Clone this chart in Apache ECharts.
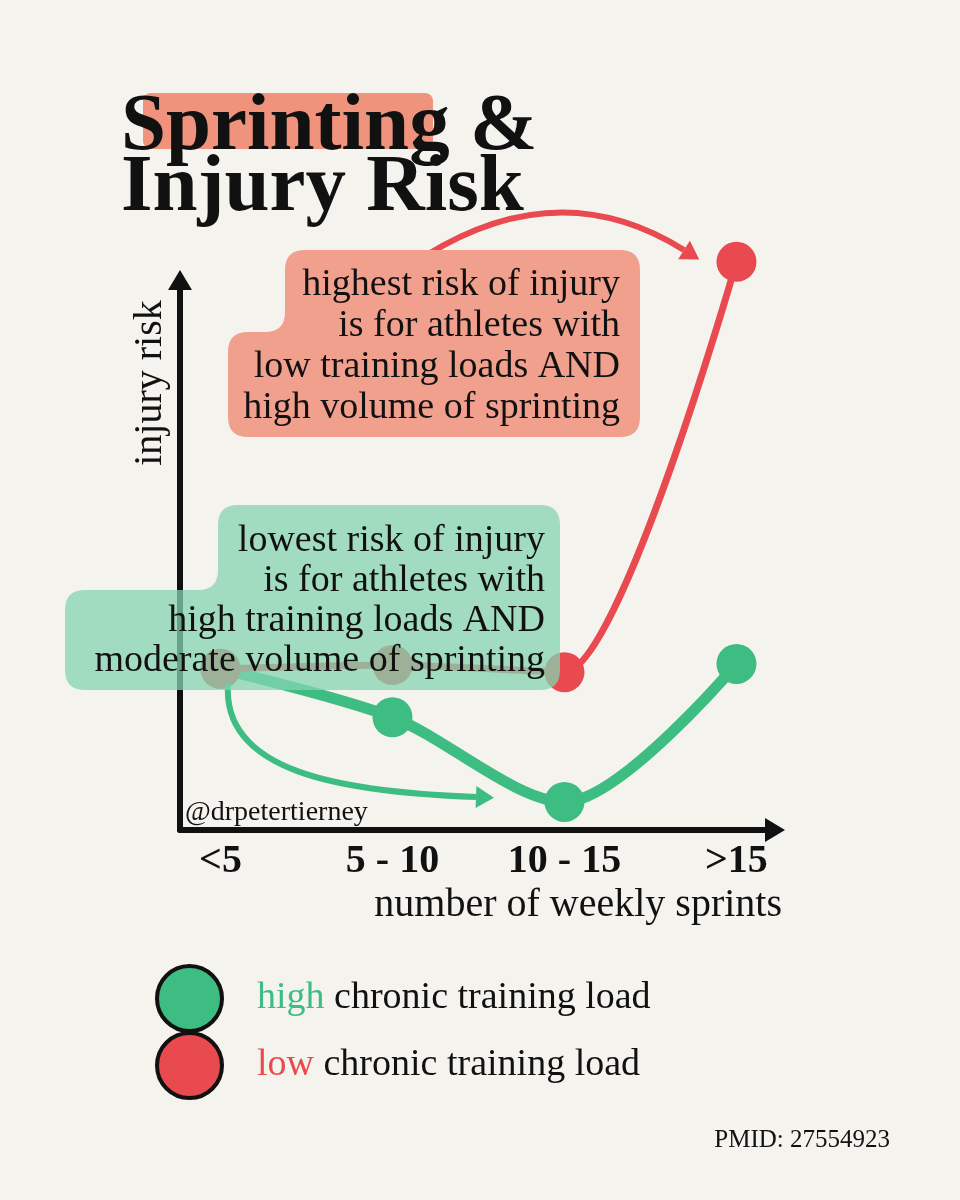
<!DOCTYPE html>
<html style="height: 100%">
<head>
    <meta charset="utf-8">
    <script type="text/javascript" src="https://cdn.jsdelivr.net/npm/echarts@6.0.0/dist/echarts.min.js"></script>
</head>
<body style="height: 100%; margin: 0; background: #f5f3ee">
<div id="container" style="height: 1200px;width: 960px;position: absolute;top: 0;left: 0;"></div>
<script type="text/javascript">
    // data (injury risk is unitless, 0 = x axis)
    var sprintBands = ['<5', '5 - 10', '10 - 15', '>15'];
    var highLoadRisk = [29.3, 20.5, 5.1, 30.2];
    var lowLoadRisk = [29.3, 30.0, 28.7, 103.3];
    var seriesNames = ['high chronic training load', 'low chronic training load'];
    var highNote = ['highest risk of injury', 'is for athletes with', 'low training loads AND', 'high volume of sprinting'];
    var lowNote = ['lowest risk of injury', 'is for athletes with', 'high training loads AND', 'moderate volume of sprinting'];

    var GREEN = '#3ebd82', RED = '#e84a4f', INK = '#111111';
    var SERIF = '"Liberation Serif", "DejaVu Serif", serif';

    function toPairs(vals) {
        return vals.map(function (v, i) { return [i, v]; });
    }

    // polygon with every corner rounded (works for inner corners too)
    function roundedPoints(verts, r) {
        var pts = [], n = verts.length;
        for (var i = 0; i < n; i++) {
            var p = verts[(i - 1 + n) % n], v = verts[i], q = verts[(i + 1) % n];
            var l1 = Math.hypot(p[0] - v[0], p[1] - v[1]), l2 = Math.hypot(q[0] - v[0], q[1] - v[1]);
            var a = [v[0] + (p[0] - v[0]) / l1 * r, v[1] + (p[1] - v[1]) / l1 * r];
            var b = [v[0] + (q[0] - v[0]) / l2 * r, v[1] + (q[1] - v[1]) / l2 * r];
            for (var k = 0; k <= 8; k++) {
                var t = k / 8, u = 1 - t;
                pts.push([u * u * a[0] + 2 * u * t * v[0] + t * t * b[0], u * u * a[1] + 2 * u * t * v[1] + t * t * b[1]]);
            }
        }
        return pts;
    }

    function arrowHead(bx, by, dx, dy, len, half, color, z) {
        var l = Math.hypot(dx, dy), ux = dx / l, uy = dy / l;
        return {
            type: 'polygon', z: z,
            shape: {points: [[bx + ux * len, by + uy * len], [bx - uy * half, by + ux * half], [bx + uy * half, by - ux * half]]},
            style: {fill: color}
        };
    }

    var dom = document.getElementById('container');
    var myChart = echarts.init(dom);

    var option = {
        backgroundColor: '#f5f3ee',
        animation: false,
        grid: {left: 180, right: 185, top: 280, bottom: 370},
        xAxis: {
            type: 'value',
            min: -0.2355,
            max: 3.224,
            splitLine: {show: false},
            axisTick: {show: false},
            axisLine: {
                show: true, onZero: false,
                lineStyle: {color: INK, width: 6},
                symbol: ['none', 'triangle'], symbolSize: [24, 20]
            },
            axisLabel: {
                customValues: [0, 1, 2, 3],
                formatter: function (v) { return sprintBands[v]; },
                fontFamily: SERIF, fontWeight: 'bold', fontSize: 40, color: INK, margin: 12
            }
        },
        yAxis: {
            type: 'value',
            min: 0,
            max: 100,
            splitLine: {show: false},
            axisTick: {show: false},
            axisLabel: {show: false},
            axisLine: {
                show: true, onZero: false,
                lineStyle: {color: INK, width: 6},
                symbol: ['none', 'triangle'], symbolSize: [24, 20]
            }
        },
        legend: {
            orient: 'vertical',
            left: 150,
            top: 959,
            itemWidth: 65,
            itemHeight: 65,
            itemGap: -2,
            icon: 'circle',
            selectedMode: false,
            itemStyle: {borderColor: INK, borderWidth: 4},
            formatter: function (name) {
                var i = name.indexOf(' ');
                var key = seriesNames.indexOf(name) === 0 ? 'g' : 'r';
                return '{' + key + '|' + name.slice(0, i) + '}' + name.slice(i);
            },
            textStyle: {
                fontFamily: SERIF, fontSize: 38, color: INK, padding: [0, 0, 0, 30],
                rich: {
                    g: {color: GREEN, fontFamily: SERIF, fontSize: 38},
                    r: {color: RED, fontFamily: SERIF, fontSize: 38}
                }
            },
            data: seriesNames
        },
        series: [
            {
                name: seriesNames[0],
                type: 'line',
                data: toPairs(highLoadRisk),
                smooth: 0.3,
                clip: false,
                symbol: 'circle',
                symbolSize: 40,
                lineStyle: {color: GREEN, width: 11},
                itemStyle: {color: GREEN},
                z: 2
            },
            {
                name: seriesNames[1],
                type: 'line',
                data: toPairs(lowLoadRisk),
                smooth: 0.22,
                clip: false,
                symbol: 'circle',
                symbolSize: 40,
                lineStyle: {color: RED, width: 7},
                itemStyle: {color: RED},
                z: 3
            }
        ],
        graphic: [
            // title
            {type: 'rect', z: 1, shape: {x: 143, y: 93, width: 290, height: 56, r: 8}, style: {fill: '#ef937d'}},
            {type: 'text', z: 2, x: 121, y: 128, style: {text: 'Sprinting &', fontFamily: SERIF, fontWeight: 'bold', fontSize: 81, fill: INK, verticalAlign: 'middle'}},
            {type: 'text', z: 2, x: 121, y: 189, style: {text: 'Injury Risk', fontFamily: SERIF, fontWeight: 'bold', fontSize: 81, fill: INK, verticalAlign: 'middle'}},

            // red annotation arrow + box
            {type: 'bezierCurve', z: 5, shape: {x1: 425, y1: 256, cpx1: 560, cpy1: 172, x2: 684, y2: 250}, style: {stroke: RED, lineWidth: 6, fill: null}},
            arrowHead(684, 250, 124, 78, 18, 11, RED, 5),
            {type: 'polygon', z: 10, shape: {points: roundedPoints([[285, 250], [640, 250], [640, 437], [228, 437], [228, 332], [285, 332]], 20)}, style: {fill: '#f1a08e'}},
            {type: 'text', z: 11, x: 620, y: 347, style: {text: highNote.join('\n'), fontFamily: SERIF, fontSize: 38, lineHeight: 41, fill: INK, align: 'right', verticalAlign: 'middle'}},

            // green annotation arrow + box
            {type: 'bezierCurve', z: 5, shape: {x1: 228, y1: 684, cpx1: 222, cpy1: 772, cpx2: 340, cpy2: 792, x2: 476, y2: 797}, style: {stroke: GREEN, lineWidth: 6, fill: null}},
            arrowHead(476, 797, 136, 5, 18, 11, GREEN, 5),
            {type: 'polygon', z: 10, shape: {points: roundedPoints([[218, 505], [560, 505], [560, 690], [65, 690], [65, 590], [218, 590]], 20)}, style: {fill: 'rgba(132, 212, 176, 0.75)'}},
            {type: 'text', z: 11, x: 545, y: 601, style: {text: lowNote.join('\n'), fontFamily: SERIF, fontSize: 38, lineHeight: 40, fill: INK, align: 'right', verticalAlign: 'middle'}},

            // axis names
            {type: 'text', z: 2, x: 150, y: 383, rotation: Math.PI / 2, style: {text: 'injury risk', fontFamily: SERIF, fontSize: 40, fill: INK, align: 'center', verticalAlign: 'middle'}},
            {type: 'text', z: 2, x: 782, y: 905, style: {text: 'number of weekly sprints', fontFamily: SERIF, fontSize: 40, fill: INK, align: 'right', verticalAlign: 'middle'}},

            // credits
            {type: 'text', z: 2, x: 185, y: 813, style: {text: '@drpetertierney', fontFamily: SERIF, fontSize: 28, fill: INK, verticalAlign: 'middle'}},
            {type: 'text', z: 2, x: 890, y: 1140, style: {text: 'PMID: 27554923', fontFamily: SERIF, fontSize: 25, fill: INK, align: 'right', verticalAlign: 'middle'}}
        ]
    };
    myChart.setOption(option, true);
</script>
</body>
</html>
